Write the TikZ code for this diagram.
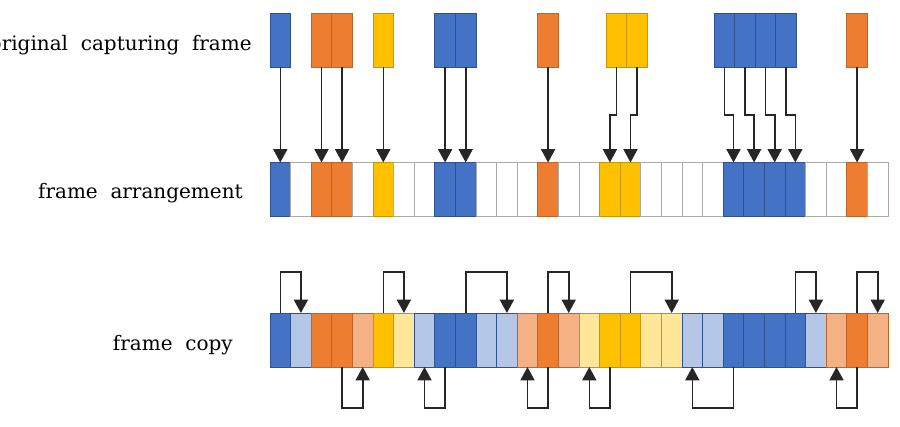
\documentclass[tikz,border=0pt]{standalone}
\usepackage{fontspec}
\usepackage{tikz}
\usetikzlibrary{arrows.meta, positioning, calc}
\newfontfamily\labelfont[WordSpace=2]{DejaVu Serif}
\definecolor{frameblue}{RGB}{68, 114, 196}
\definecolor{frameorange}{RGB}{237, 125, 49}
\definecolor{frameyellow}{RGB}{255, 192, 0}
\definecolor{copyblue}{RGB}{180, 199, 231}
\definecolor{copyorange}{RGB}{244, 177, 131}
\definecolor{copyyellow}{RGB}{255, 230, 153}
\definecolor{blueedge}{RGB}{47, 82, 143}
\definecolor{orangeedge}{RGB}{190, 100, 40}
\definecolor{yellowedge}{RGB}{200, 150, 0}
\definecolor{emptyedge}{RGB}{170, 170, 170}
\tikzset{
    cell/.style={draw, line width=0.75pt, minimum width=15.45pt, minimum height=40.5pt,
                 inner sep=0pt, outer sep=0pt},
    cellB/.style={cell, fill=frameblue, draw=blueedge},
    cellO/.style={cell, fill=frameorange, draw=orangeedge},
    cellY/.style={cell, fill=frameyellow, draw=yellowedge},
    cellb/.style={cell, fill=copyblue, draw=blueedge},
    cello/.style={cell, fill=copyorange, draw=orangeedge},
    celly/.style={cell, fill=copyyellow, draw=yellowedge},
    cellW/.style={cell, fill=white, draw=emptyedge},
    link/.style={draw=black!85, line width=1.2pt, -{Triangle[length=10pt, width=10.5pt]}},
    rowlabel/.style={font=\labelfont\fontsize{15}{18}\selectfont, anchor=east, inner sep=0pt}
}

\begin{document}
\begin{tikzpicture}[x=0.75pt, y=-0.75pt]
    \useasboundingbox (0,0) rectangle (900,426);
    \coordinate (jog) at (0,115);
    \coordinate (over) at (0,272);
    \coordinate (under) at (0,408);

    % frame arrangement
    \foreach \c [count=\i from 0] in {B,W,O,O,W,Y,W,W,B,B,W,W,W,O,W,W,Y,Y,W,W,W,W,B,B,B,B,W,W,O,W}
        \node[cell\c] (m\i) at ({280.3+20.6*\i}, 189.5) {};

    % original capturing frame
    \foreach \x/\c/\t [count=\k] in {270/B/0, 311.2/O/2, 331.8/O/3, 373/Y/5, 434.8/B/8, 455.4/B/9,
            537.8/O/13, 606/Y/16, 626.6/Y/17, 714/B/22, 734.6/B/23, 755.2/B/24, 775.8/B/25, 846.8/O/28} {
        \node[cell\c] (t\k) at (\x+10.3, 40) {};
        \draw[link] (t\k.south) -- (t\k.south |- jog) -| (m\t.north);
    }

    % frame copy
    \foreach \c [count=\i from 0] in {B,b,O,O,o,Y,y,b,B,B,b,b,o,O,o,y,Y,Y,y,y,b,b,B,B,B,B,b,o,O,o}
        \node[cell\c] (c\i) at ({280.3+20.6*\i}, 340) {};
    \foreach \s/\d in {0/1, 5/6, 9/11, 13/14, 17/19, 25/26, 28/29}
        \draw[link] (c\s.north) -- (c\s.north |- over) -| (c\d.north);
    \foreach \s/\d in {3/4, 8/7, 13/12, 16/15, 22/20, 28/27}
        \draw[link] (c\s.south) -- (c\s.south |- under) -| (c\d.south);

    \node[rowlabel] (origlabel) at (252,45) {original capturing frame};
    \node[rowlabel] (arrlabel) at (243,193) {frame arrangement};
    \node[rowlabel] (copylabel) at (233,345) {frame copy};
\end{tikzpicture}
\end{document}
